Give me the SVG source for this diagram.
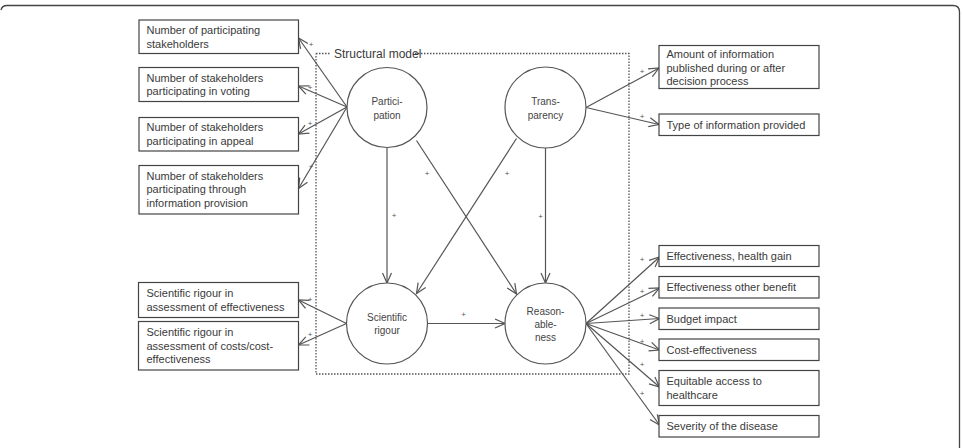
<svg xmlns="http://www.w3.org/2000/svg" width="963" height="448" viewBox="0 0 963 448">
<style>
.box{fill:#fff;stroke:#444;stroke-width:1.2}
.bt{font-family:"Liberation Sans",Arial,sans-serif;font-size:11px;fill:#3a3a3a}
.ct{font-family:"Liberation Sans",Arial,sans-serif;font-size:10px;fill:#444;text-anchor:middle}
.circ{fill:#fff;stroke:#555;stroke-width:1.2}
.ln{stroke:#555;stroke-width:1.2;fill:none;marker-end:url(#ah)}
.pl{font-family:"Liberation Sans",Arial,sans-serif;font-size:8px;fill:#555;text-anchor:middle}
</style>
<defs>
<marker id="ah" viewBox="0 0 12 12" refX="11" refY="6" markerWidth="12" markerHeight="12" markerUnits="userSpaceOnUse" orient="auto">
<path d="M1,1.5 L11,6 L1,10.5" fill="none" stroke="#555" stroke-width="1.2"/>
</marker>
</defs>
<rect width="963" height="448" fill="#fff"/>
<path d="M1,10 Q2,5.5 7,5.5 H953 Q959.5,5.5 959.5,12 V448" fill="none" stroke="#444" stroke-width="1.3"/>

<g id="structural-model">
<path d="M316,53.5 H331 M415,53.5 H629 V374 H316 V53.5" fill="none" stroke="#555" stroke-width="1.3" stroke-dasharray="1.5,1.5"/>
<text x="334" y="57.5" font-family="Liberation Sans, Arial, sans-serif" font-size="12" fill="#3a3a3a">Structural model</text>
</g>

<g id="connectors">
<line class="ln" x1="347" y1="107" x2="298.5" y2="38"/>
<line class="ln" x1="347" y1="107" x2="298.5" y2="86"/>
<line class="ln" x1="347" y1="107" x2="298.5" y2="134"/>
<line class="ln" x1="347" y1="107" x2="298.5" y2="188.5"/>
<line class="ln" x1="586" y1="107.5" x2="659" y2="68"/>
<line class="ln" x1="586" y1="107.5" x2="659" y2="124.5"/>
<line class="ln" x1="387" y1="147.5" x2="387" y2="283"/>
<line class="ln" x1="416.5" y1="140.5" x2="516.5" y2="294"/>
<line class="ln" x1="516.5" y1="138.5" x2="416.5" y2="293.5"/>
<line class="ln" x1="545.5" y1="148" x2="545.5" y2="283"/>
<line class="ln" x1="427.5" y1="323.5" x2="505" y2="323.5"/>
<line class="ln" x1="346.5" y1="323.5" x2="298.5" y2="300"/>
<line class="ln" x1="346.5" y1="323.5" x2="298.5" y2="345"/>
<line class="ln" x1="586" y1="323.5" x2="659.5" y2="257"/>
<line class="ln" x1="586" y1="323.5" x2="659.5" y2="288"/>
<line class="ln" x1="586" y1="323.5" x2="659.5" y2="318.5"/>
<line class="ln" x1="586" y1="323.5" x2="659.5" y2="350"/>
<line class="ln" x1="586" y1="323.5" x2="659.5" y2="387"/>
<line class="ln" x1="586" y1="323.5" x2="659.5" y2="425"/>
<text class="pl" x="311" y="47">+</text>
<text class="pl" x="310" y="89.5">+</text>
<text class="pl" x="310" y="125.5">+</text>
<text class="pl" x="311" y="169">+</text>
<text class="pl" x="642" y="74">+</text>
<text class="pl" x="642" y="119">+</text>
<text class="pl" x="394" y="218">+</text>
<text class="pl" x="427" y="175.5">+</text>
<text class="pl" x="507" y="175.5">+</text>
<text class="pl" x="540.5" y="219">+</text>
<text class="pl" x="463.5" y="317">+</text>
<text class="pl" x="310" y="302">+</text>
<text class="pl" x="310" y="337">+</text>
<text class="pl" x="642" y="262">+</text>
<text class="pl" x="642" y="293.5">+</text>
<text class="pl" x="642" y="317.5">+</text>
<text class="pl" x="642" y="343.5">+</text>
<text class="pl" x="642" y="367">+</text>
<text class="pl" x="642" y="395.5">+</text>
</g>

<g id="participation">
<circle class="circ" cx="387" cy="107.5" r="40"/>
<text class="ct" x="387" y="105">Partici-</text>
<text class="ct" x="387" y="118.5">pation</text>
</g>
<g id="transparency">
<circle class="circ" cx="545.5" cy="107.5" r="40.5"/>
<text class="ct" x="545.5" y="105">Trans-</text>
<text class="ct" x="545.5" y="118.5">parency</text>
</g>
<g id="scientific-rigour">
<circle class="circ" cx="387" cy="323.5" r="40.5"/>
<text class="ct" x="387" y="321">Scientific</text>
<text class="ct" x="387" y="334">rigour</text>
</g>
<g id="reasonableness">
<circle class="circ" cx="545.5" cy="323.5" r="40.5"/>
<text class="ct" x="545.5" y="314.5">Reason-</text>
<text class="ct" x="545.5" y="327.5">able-</text>
<text class="ct" x="545.5" y="340.5">ness</text>
</g>

<g id="box-participating-stakeholders">
<rect class="box" x="139" y="20" width="159.5" height="33.5"/>
<text class="bt" x="146.5" y="34">Number of participating</text>
<text class="bt" x="146.5" y="47.5">stakeholders</text>
</g>
<g id="box-voting">
<rect class="box" x="139" y="67.5" width="159.5" height="34"/>
<text class="bt" x="146.5" y="81.5">Number of stakeholders</text>
<text class="bt" x="146.5" y="95">participating in voting</text>
</g>
<g id="box-appeal">
<rect class="box" x="139" y="117.5" width="159.5" height="33.5"/>
<text class="bt" x="146.5" y="131">Number of stakeholders</text>
<text class="bt" x="146.5" y="144.5">participating in appeal</text>
</g>
<g id="box-information-provision">
<rect class="box" x="139" y="165.5" width="159.5" height="48.5"/>
<text class="bt" x="146.5" y="179.5">Number of stakeholders</text>
<text class="bt" x="146.5" y="193">participating through</text>
<text class="bt" x="146.5" y="206.5">information provision</text>
</g>
<g id="box-rigour-effectiveness">
<rect class="box" x="138.5" y="282.5" width="160" height="35"/>
<text class="bt" x="146.5" y="297">Scientific rigour in</text>
<text class="bt" x="146.5" y="310.5">assessment of effectiveness</text>
</g>
<g id="box-rigour-costs">
<rect class="box" x="138.5" y="321.5" width="160" height="48.5"/>
<text class="bt" x="146.5" y="336">Scientific rigour in</text>
<text class="bt" x="146.5" y="349.5">assessment of costs/cost-</text>
<text class="bt" x="146.5" y="363">effectiveness</text>
</g>

<g id="box-amount-information">
<rect class="box" x="659" y="45.5" width="160" height="43"/>
<text class="bt" x="666.5" y="58">Amount of information</text>
<text class="bt" x="666.5" y="71.5">published during or after</text>
<text class="bt" x="666.5" y="85">decision process</text>
</g>
<g id="box-type-information">
<rect class="box" x="659" y="114" width="160" height="21.5"/>
<text class="bt" x="666.5" y="128.5">Type of information provided</text>
</g>
<g id="box-health-gain">
<rect class="box" x="659" y="245.5" width="160" height="21"/>
<text class="bt" x="666.5" y="260">Effectiveness, health gain</text>
</g>
<g id="box-other-benefit">
<rect class="box" x="659" y="276.5" width="160" height="21.5"/>
<text class="bt" x="666.5" y="291">Effectiveness other benefit</text>
</g>
<g id="box-budget-impact">
<rect class="box" x="659" y="308" width="160" height="21.5"/>
<text class="bt" x="666.5" y="322.5">Budget impact</text>
</g>
<g id="box-cost-effectiveness">
<rect class="box" x="659" y="339" width="160" height="21.5"/>
<text class="bt" x="666.5" y="353.5">Cost-effectiveness</text>
</g>
<g id="box-equitable-access">
<rect class="box" x="659" y="370.5" width="160" height="35"/>
<text class="bt" x="666.5" y="385">Equitable access to</text>
<text class="bt" x="666.5" y="398.5">healthcare</text>
</g>
<g id="box-severity">
<rect class="box" x="659" y="415.5" width="160" height="21.5"/>
<text class="bt" x="666.5" y="430">Severity of the disease</text>
</g>
</svg>
